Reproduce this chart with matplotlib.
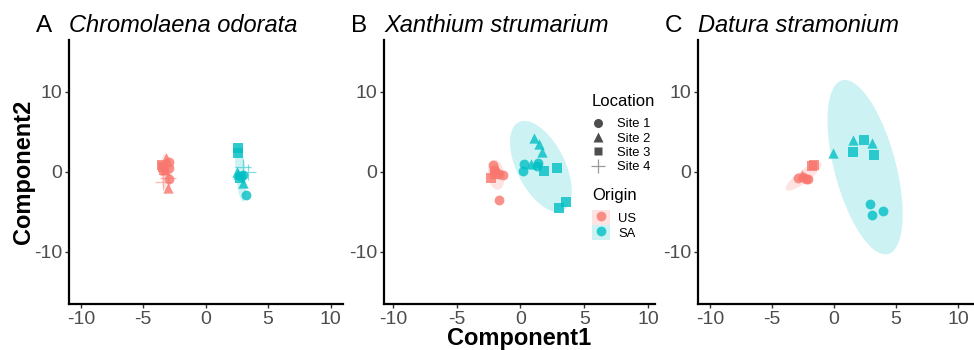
import numpy as np
import matplotlib
matplotlib.use("Agg")
import matplotlib.pyplot as plt
from matplotlib.lines import Line2D
from matplotlib.patches import Patch

plt.rcParams['font.family'] = ['Liberation Sans', 'DejaVu Sans']
plt.rcParams['axes.unicode_minus'] = False

# ---------------- data ----------------
panel_letters = ["A", "B", "C"]
species = ["Chromolaena odorata", "Xanthium strumarium", "Datura stramonium"]
origins = ["US", "SA"]
sites = ["Site 1", "Site 2", "Site 3", "Site 4"]
x_ticks = [-10, -5, 0, 5, 10]
y_ticks = [-10, 0, 10]

# Panel A points: (x, y, origin, site)
a_x = [-2.9, -2.9, -2.9, -3.0, -3.2, -3.25, -3.5, -3.3, -3.4, -3.43, -3.05,
       3.0, 3.19, 2.8, 2.5, 3.0, 2.6, 2.6, 2.6, 2.73, 3.35, 3.0]
a_y = [1.3, 0.45, -0.875, -2.0, 1.8, 0.2, 0.875, 0.25, 0.6, -1.2, -0.7,
       -0.37, -2.9, -0.5, 0.04, -1.4, -0.3, 2.96, 2.34, -0.8, 0.04, 0.67]
a_o = ["US"] * 11 + ["SA"] * 11
a_s = [1, 1, 1, 2, 2, 2, 3, 3, 3, 4, 4,
       1, 1, 1, 2, 2, 2, 3, 3, 3, 4, 4]

# Panel B points
b_x = [-2.15, -2.04, -1.7, -1.39, -1.65, -1.85, -2.3, -2.0,
       0.24, 0.18, 1.4, 1.3, 1.1, 1.42, 1.67, 0.84, 1.83, 2.86, 3.6, 3.03]
b_y = [0.875, 0.25, -0.2, -0.375, -3.5, 0.4, -0.8, -0.3,
       1.0, 0.15, 1.17, 0.8, 4.2, 3.5, 2.45, 0.96, 0.12, 0.5, -3.75, -4.54]
b_o = ["US"] * 8 + ["SA"] * 12
b_s = [1, 1, 1, 1, 1, 2, 3, 3,
       1, 1, 1, 1, 2, 2, 2, 2, 3, 3, 3, 3]

# Panel C points
c_x = [-2.88, -2.47, -2.07, -2.3, -2.6, -1.62, -1.75,
       2.9, 3.04, 3.98, -0.1, 1.56, 3.04, 2.42, 1.5, 3.23]
c_y = [-0.8, -0.58, -0.875, -0.9, -0.375, 0.875, 0.7,
       -4.0, -5.4, -4.9, 2.4, 4.0, 3.6, 4.0, 2.46, 2.1]
c_o = ["US"] * 7 + ["SA"] * 9
c_s = [1, 1, 1, 1, 2, 3, 3,
       1, 1, 1, 2, 2, 2, 3, 3, 3]

# Ellipses: centre (x, y) and shape matrix entries (xx, xy, yy), per panel & origin
ell_cx = {"A": [-3.15, 2.8], "B": [-1.9, 1.6], "C": [-2.45, 2.5]}
ell_cy = {"A": [0.0, -0.1], "B": [-0.35, 0.7], "C": [-0.55, 0.6]}
ell_xx = {"A": [0.2, 0.2], "B": [0.43, 5.86], "C": [2.1, 9.18]}
ell_xy = {"A": [-0.1, -0.72], "B": [-0.2, -7.33], "C": [2.2, -17.8]}
ell_yy = {"A": [5.3, 13.0], "B": [3.5, 32.3], "C": [3.2, 118.8]}

panel_points = {"A": (a_x, a_y, a_o, a_s),
                "B": (b_x, b_y, b_o, b_s),
                "C": (c_x, c_y, c_o, c_s)}

# ---------------- style ----------------
colors = {"US": "#F8766D", "SA": "#00BFC4"}
markers = {1: "o", 2: "^", 3: "s", 4: "+"}
sizes = {1: 50, 2: 55, 3: 46, 4: 130}

fig = plt.figure(figsize=(9.74, 3.5), dpi=100)
W, H = 974.0, 350.0
ax_px = {"A": (69, 343), "B": (384, 655), "C": (698, 973)}
xlims = {"A": (-10.95, 11.0), "B": (-10.7, 10.55), "C": (-10.97, 11.2)}
top_px, bot_px = 40, 304

axes = {}
for letter, sp in zip(panel_letters, species):
    l, r = ax_px[letter]
    ax = fig.add_axes([l / W, (H - bot_px) / H, (r - l) / W, (bot_px - top_px) / H])
    axes[letter] = ax
    ax.set_xlim(*xlims[letter])
    ax.set_ylim(-16.5, 16.5)
    for s in ["top", "right"]:
        ax.spines[s].set_visible(False)
    for s in ["left", "bottom"]:
        ax.spines[s].set_linewidth(1.6)
        ax.spines[s].set_color("black")
    ax.set_xticks(x_ticks)
    ax.set_yticks(y_ticks)
    ax.tick_params(labelsize=14, labelcolor="#4D4D4D", color="#333333",
                   length=3, width=1, pad=2)

    # ellipses
    t = np.linspace(0, 2 * np.pi, 200)
    for i, o in enumerate(origins):
        M = np.array([[ell_xx[letter][i], ell_xy[letter][i]],
                      [ell_xy[letter][i], ell_yy[letter][i]]])
        L = np.linalg.cholesky(M)
        pts = L @ np.vstack([np.cos(t), np.sin(t)])
        ax.fill(pts[0] + ell_cx[letter][i], pts[1] + ell_cy[letter][i],
                color=colors[o], alpha=0.2, lw=0, zorder=1)

    # points
    xs, ys, os_, ss = panel_points[letter]
    xs = np.array(xs); ys = np.array(ys); os_ = np.array(os_); ss = np.array(ss)
    for o in origins:
        for s in [1, 2, 3, 4]:
            m = (os_ == o) & (ss == s)
            if not m.any():
                continue
            if s == 4:
                ax.scatter(xs[m], ys[m], marker="+", s=sizes[s], c=colors[o],
                           alpha=0.5, linewidths=0.9, zorder=3)
            else:
                ax.scatter(xs[m], ys[m], marker=markers[s], s=sizes[s], c=colors[o],
                           alpha=0.8, linewidths=0, zorder=3)

    # titles
    ax.text(-33 / (r - l), 1.012, letter, transform=ax.transAxes, fontsize=17.5,
            ha="left", va="bottom")
    ax.text(0.0, 1.012, sp, transform=ax.transAxes, fontsize=17,
            style="italic", ha="left", va="bottom")

axes["A"].set_ylabel("Component2", fontsize=17, fontweight="bold", labelpad=-1)
axes["B"].set_xlabel("Component1", fontsize=17, fontweight="bold", labelpad=-1)

# ---------------- legends (panel B) ----------------
axB = axes["B"]
loc_handles = [
    Line2D([], [], ls="none", marker="o", ms=6.5, color="#4D4D4D", mec="none"),
    Line2D([], [], ls="none", marker="^", ms=7, color="#4D4D4D", mec="none"),
    Line2D([], [], ls="none", marker="s", ms=6, color="#4D4D4D", mec="none"),
    Line2D([], [], ls="none", marker="+", ms=10, color="#9A9A9A", mew=0.9),
]
leg1 = axB.legend(loc_handles, sites, title="Location", loc="upper left",
                  bbox_to_anchor=(0.767, 0.795), frameon=False, fontsize=9.4,
                  title_fontsize=12, handlelength=1.0, handletextpad=0.9,
                  labelspacing=0.17, borderpad=0, borderaxespad=0,
                  alignment="left")
leg1._legend_box.sep = 6.5
axB.add_artist(leg1)

org_handles = [
    (Patch(facecolor=colors[o], alpha=0.2, lw=0),
     Line2D([], [], ls="none", marker="o", ms=7, color=colors[o], alpha=0.8, mec="none"))
    for o in origins
]
leg2 = axB.legend(org_handles, origins, title="Origin", loc="upper left",
                  bbox_to_anchor=(0.767, 0.44), frameon=False, fontsize=9.4,
                  title_fontsize=12, handlelength=1.4, handleheight=1.4,
                  handletextpad=0.6, labelspacing=0.0, borderpad=0,
                  borderaxespad=0, alignment="left")
leg2._legend_box.sep = 5

fig.savefig("out.png", dpi=100)
